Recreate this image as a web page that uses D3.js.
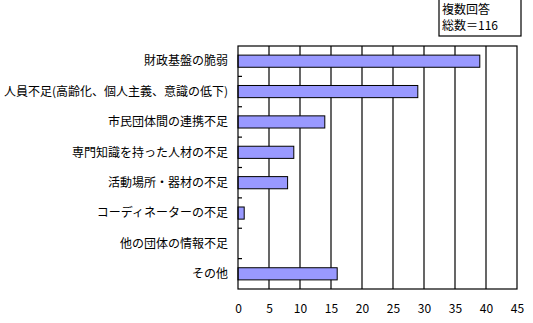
<!DOCTYPE html>
<html>
<head>
<meta charset="utf-8">
<script src="https://cdn.jsdelivr.net/npm/d3@7"></script>
<style>
  body { margin: 0; background: #fff; }
  text { font-family: "Noto Sans CJK JP", sans-serif; font-size: 12px; fill: #000; }
</style>
</head>
<body>
<div id="chart"></div>
<script>
(() => {
  // data
  const categories = [
    "財政基盤の脆弱",
    "人員不足(高齢化、個人主義、意識の低下)",
    "市民団体間の連携不足",
    "専門知識を持った人材の不足",
    "活動場所・器材の不足",
    "コーディネーターの不足",
    "他の団体の情報不足",
    "その他"
  ];
  const counts = [39, 29, 14, 9, 8, 1, 0, 16];
  const xTicks = [0, 5, 10, 15, 20, 25, 30, 35, 40, 45];
  const noteLines = ["複数回答", "総数＝116"];

  const width = 533, height = 323;
  const plot = {left: 238, right: 517, top: 46, bottom: 289};

  const svg = d3.select("#chart")
    .append("svg")
    .attr("width", width)
    .attr("height", height);

  const x = d3.scaleLinear()
    .domain([0, 45])
    .range([plot.left, plot.right]);

  const y = d3.scaleBand()
    .domain(categories)
    .range([plot.top, plot.bottom])
    .paddingInner(0.6)
    .paddingOuter(0.3);

  // vertical grid lines
  svg.append("g")
    .selectAll("line")
    .data(xTicks.slice(1, -1))
    .enter().append("line")
    .attr("x1", d => x(d)).attr("x2", d => x(d))
    .attr("y1", plot.top).attr("y2", plot.bottom)
    .attr("stroke", "#000")
    .attr("stroke-width", 1.2);

  // bars (zero values draw nothing)
  const rows = categories.map((c, i) => ({cat: c, value: counts[i]}))
    .filter(d => d.value > 0);
  svg.append("g")
    .selectAll("rect")
    .data(rows)
    .enter().append("rect")
    .attr("x", x(0))
    .attr("y", d => y(d.cat))
    .attr("width", d => x(d.value) - x(0))
    .attr("height", y.bandwidth())
    .attr("fill", "#9999ff")
    .attr("stroke", "#000")
    .attr("stroke-width", 1);

  // plot border
  svg.append("rect")
    .attr("x", plot.left).attr("y", plot.top)
    .attr("width", plot.right - plot.left)
    .attr("height", plot.bottom - plot.top)
    .attr("fill", "none")
    .attr("stroke", "#000")
    .attr("stroke-width", 1.2);

  // category ticks (inside, at band boundaries)
  const bandY = i => plot.top + i * (plot.bottom - plot.top) / categories.length;
  svg.append("g")
    .selectAll("line")
    .data(d3.range(1, categories.length))
    .enter().append("line")
    .attr("x1", plot.left).attr("x2", plot.left + 4)
    .attr("y1", bandY)
    .attr("y2", bandY)
    .attr("stroke", "#000")
    .attr("stroke-width", 1.2);

  // category labels
  svg.append("g")
    .selectAll("text")
    .data(categories)
    .enter().append("text")
    .attr("x", 228)
    .attr("y", d => y(d) + y.bandwidth() / 2)
    .attr("dy", "0.35em")
    .attr("text-anchor", "end")
    .text(d => d);

  // x axis labels
  const xAxis = d3.axisBottom(x)
    .tickValues(xTicks)
    .tickSize(0)
    .tickPadding(15)
    .tickFormat(d3.format("d"));
  const ax = svg.append("g")
    .attr("transform", `translate(0,${plot.bottom})`)
    .call(xAxis);
  ax.select(".domain").remove();
  ax.selectAll("text")
    .attr("font-family", "Noto Sans CJK JP")
    .attr("font-size", 12);

  // note box
  const note = svg.append("g");
  note.append("rect")
    .attr("x", 439).attr("y", -1)
    .attr("width", 82).attr("height", 37)
    .attr("fill", "#fff")
    .attr("stroke", "#000")
    .attr("stroke-width", 1.2);
  note.selectAll("text")
    .data(noteLines)
    .enter().append("text")
    .attr("x", 442)
    .attr("y", (d, i) => 10 + i * 16)
    .attr("dy", "0.35em")
    .text(d => d);
})();
</script>
</body>
</html>
